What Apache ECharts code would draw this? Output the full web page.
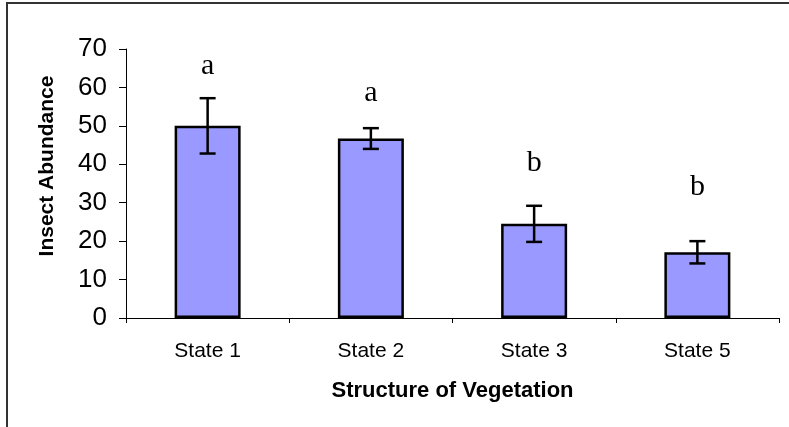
<!DOCTYPE html>
<html>
<head>
<meta charset="utf-8">
<script src="https://cdn.jsdelivr.net/npm/echarts@6/dist/echarts.min.js"></script>
<style>
  html, body { margin: 0; padding: 0; background: #fff; }
  #chart { width: 789px; height: 427px; }
</style>
</head>
<body>
<div id="chart"></div>
<script>
// data
var categories = ['State 1', 'State 2', 'State 3', 'State 5'];
var means = [50, 46.7, 24.5, 17.1];
var errors = [7.2, 2.7, 4.7, 2.9];
var letters = ['a', 'a', 'b', 'b'];
var letterHeights = [65.5, 58.6, 40.3, 34.1];

var myChart = echarts.init(document.getElementById('chart'));

var errData = means.map(function (m, i) { return [i, m - errors[i], m + errors[i]]; });
var letterData = letters.map(function (l, i) { return [i, letterHeights[i], l]; });

option = {
    animation: false,
    grid: { left: 126, right: 10, top: 49, bottom: 109, containLabel: false },
    graphic: [
        {
            type: 'rect',
            shape: { x: 7, y: 3, width: 900, height: 600 },
            style: { fill: 'none', stroke: '#333', lineWidth: 2 },
            z: -10
        },
        {
            type: 'text',
            x: 47, y: 166,
            rotation: Math.PI / 2,
            style: {
                text: 'Insect Abundance',
                font: 'bold 21px "Liberation Sans", Arial, sans-serif',
                fill: '#000',
                align: 'center',
                verticalAlign: 'middle'
            }
        }
    ],
    xAxis: {
        type: 'category',
        data: categories,
        name: 'Structure of Vegetation',
        nameLocation: 'middle',
        nameGap: 62,
        nameTextStyle: { fontFamily: 'Liberation Sans', fontWeight: 'bold', fontSize: 22, color: '#000' },
        axisLine: { lineStyle: { color: '#000', width: 1 } },
        axisTick: { show: true, length: 5, inside: false, lineStyle: { color: '#000' } },
        axisLabel: { fontFamily: 'Liberation Sans', fontSize: 21, color: '#000', margin: 23 }
    },
    yAxis: {
        type: 'value',
        min: 0, max: 70, interval: 10,
        splitLine: { show: false },
        axisLine: { show: true, lineStyle: { color: '#000', width: 1 } },
        axisTick: { show: true, length: 7, lineStyle: { color: '#000' } },
        axisLabel: { fontFamily: 'Liberation Sans', fontSize: 26, color: '#000', margin: 19 }
    },
    series: [
        {
            type: 'bar',
            data: means,
            barWidth: 66,
            itemStyle: { color: '#9999FF', borderColor: '#000', borderWidth: 2.5 }
        },
        {
            type: 'custom',
            data: errData,
            z: 10,
            renderItem: function (params, api) {
                var x = api.value(0);
                var lo = api.coord([x, api.value(1)]);
                var hi = api.coord([x, api.value(2)]);
                var w = 8;
                var st = { stroke: '#000', lineWidth: 2.5 };
                return {
                    type: 'group',
                    children: [
                        { type: 'line', shape: { x1: lo[0], y1: lo[1], x2: hi[0], y2: hi[1] }, style: st },
                        { type: 'line', shape: { x1: hi[0] - w, y1: hi[1], x2: hi[0] + w, y2: hi[1] }, style: st },
                        { type: 'line', shape: { x1: lo[0] - w, y1: lo[1], x2: lo[0] + w, y2: lo[1] }, style: st }
                    ]
                };
            }
        },
        {
            type: 'custom',
            data: letterData,
            renderItem: function (params, api) {
                var p = api.coord([api.value(0), api.value(1)]);
                return {
                    type: 'text',
                    x: p[0], y: p[1],
                    style: {
                        text: letters[params.dataIndex],
                        font: '30px "Liberation Serif", "Times New Roman", serif',
                        fill: '#000',
                        align: 'center',
                        verticalAlign: 'middle'
                    }
                };
            }
        }
    ]
};

myChart.setOption(option);
</script>
</body>
</html>
